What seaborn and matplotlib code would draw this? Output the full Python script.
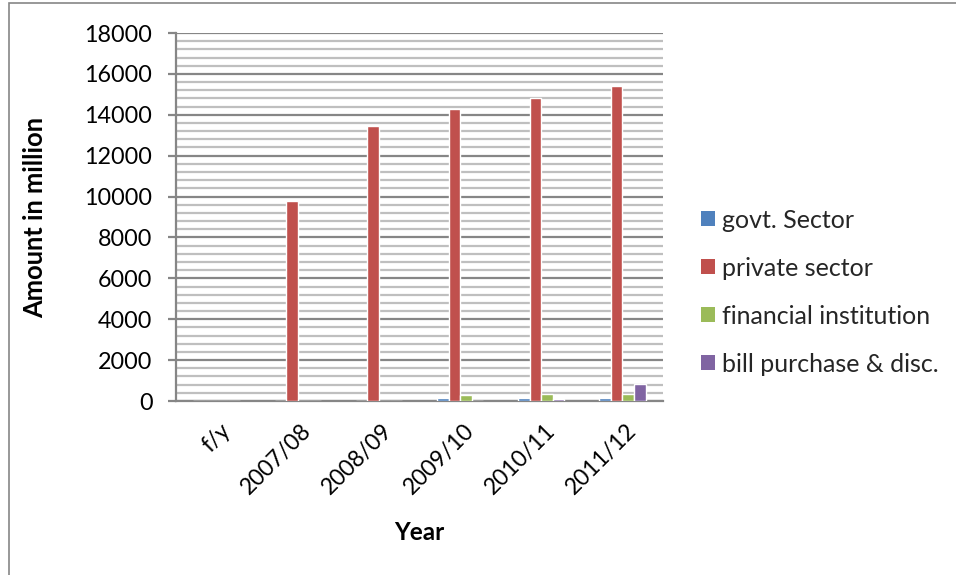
import matplotlib
matplotlib.use("Agg")
import matplotlib.pyplot as plt
from matplotlib.patches import Patch, Rectangle
from matplotlib.ticker import MultipleLocator
import matplotlib.transforms as mtransforms
import numpy as np
import pandas as pd
import seaborn as sns

years = ["f/y", "2007/08", "2008/09", "2009/10", "2010/11", "2011/12"]
govt_sector = [0, 0, 0, 130, 135, 135]
private_sector = [0, 9780, 13450, 14290, 14800, 15390]
financial_institution = [0, 0, 0, 300, 340, 350]
bill_purchase = [0, 0, 0, 0, 110, 830]

series_names = ["govt. Sector", "private sector", "financial institution", "bill purchase & disc."]
colors = ["#4F81BD", "#C0504D", "#9BBB59", "#8064A2"]

df = pd.DataFrame({
    "Year": years * 4,
    "Series": np.repeat(series_names, len(years)),
    "Amount": govt_sector + private_sector + financial_institution + bill_purchase,
})

sns.set_theme(style="white")
plt.rcParams["font.family"] = ["Lato", "DejaVu Sans"]

fig = plt.figure(figsize=(9.56, 5.75), dpi=100)
ax = fig.add_axes([176 / 956, 1 - 401 / 575, 487 / 956, 368 / 575])

sns.barplot(data=df, x="Year", y="Amount", hue="Series", order=years,
            hue_order=series_names, palette=colors, width=0.57,
            saturation=1, ax=ax, legend=False, zorder=3)

ax.set_ylim(0, 18000)
ax.set_xlim(-0.5, len(years) - 0.5)
ax.yaxis.set_major_locator(MultipleLocator(2000))
ax.yaxis.set_minor_locator(MultipleLocator(400))
ax.grid(which="minor", axis="y", color="#BFBFBF", linewidth=1.6, zorder=0)
ax.grid(which="major", axis="y", color="#868686", linewidth=1.6, zorder=1)
ax.set_axisbelow(True)

for side in ["top", "right"]:
    ax.spines[side].set_visible(False)
for side in ["left", "bottom"]:
    ax.spines[side].set_color("#868686")
    ax.spines[side].set_linewidth(1.6)

ax.tick_params(axis="y", which="major", left=True, length=6, width=1.6,
               color="#868686", labelsize=16.8, pad=11, labelcolor="black")
ax.tick_params(axis="y", which="minor", left=False)
ax.tick_params(axis="x", bottom=False, labelsize=16.5, pad=6, labelcolor="black")
ax.set_xticks(range(len(years)))
ax.set_xticklabels(years, rotation=45, ha="right", rotation_mode="anchor")
shift = mtransforms.ScaledTranslation(0.03, -0.02, fig.dpi_scale_trans)
for lbl in ax.get_xticklabels():
    lbl.set_transform(lbl.get_transform() + shift)

ax.set_ylabel("Amount in million", fontsize=18.4, fontweight="bold", color="black")
ax.set_xlabel("Year", fontsize=17.5, fontweight="bold", color="black")
ax.yaxis.set_label_coords((35 - 176) / 487, 0.5)
ax.xaxis.set_label_coords((419 - 176) / 487, (401 - 532) / 368)
ax.xaxis.label.set_va("center")
ax.yaxis.label.set_va("center")

handles = [Patch(facecolor=c, edgecolor="none") for c in colors]
fig.legend(handles, series_names, loc="center left", bbox_to_anchor=(691 / 956, 1 - 292 / 575),
           frameon=False, fontsize=18, labelspacing=1.0, handlelength=0.55,
           handleheight=0.55, handletextpad=0.3, borderaxespad=0)

fig.patches.append(Rectangle((9 / 956, -0.1), 1.2, 1 - 3 / 575 + 0.1, transform=fig.transFigure,
                             fill=False, edgecolor="#868686", linewidth=1.2))

fig.savefig("out.png", dpi=100)
